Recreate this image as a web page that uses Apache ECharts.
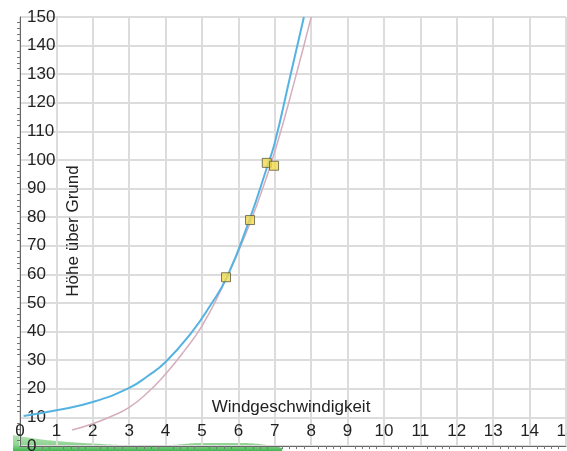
<!DOCTYPE html>
<html>
<head>
<meta charset="utf-8">
<script src="https://cdn.jsdelivr.net/npm/echarts@6/dist/echarts.min.js"></script>
<style>
  html, body { margin: 0; padding: 0; background: #fff; }
  #container { width: 567px; height: 451px; }
</style>
</head>
<body>
<div id="container"></div>
<script>
// Windprofil (blau), zweites Profil (rosa), Messpunkte und Gelände
var blueX = [0.1, 1, 2, 3, 3.5, 4, 4.7, 5.2, 5.7, 6.3, 6.8, 7.0, 7.4, 7.8];
var blueY = [10.5, 12.5, 15.4, 20.3, 24.4, 29.4, 39.5, 48.6, 59.5, 79, 98, 106, 128, 150];

var pinkX = [1.43, 2, 2.5, 3, 3.5, 4, 4.5, 5, 5.5, 6, 6.5, 7, 7.55, 8.0];
var pinkY = [5.6, 7.8, 10.3, 13.5, 18.6, 25.2, 33, 42, 54, 68, 84, 103, 128, 150];

var pointX = [5.66, 6.32, 6.78, 6.98];
var pointY = [59, 79, 99, 98];

var groundX = [-0.2, 0.5, 1, 2, 3, 4, 5, 6, 6.8, 7.2];
var groundY = [16, 12, 10, 7.5, 6, 6, 8, 8, 6, 3];

var xTicks = [0, 1, 2, 3, 4, 5, 6, 7, 8, 9, 10, 11, 12, 13, 14, 15];
var yTicks = [0, 10, 20, 30, 40, 50, 60, 70, 80, 90, 100, 110, 120, 130, 140, 150];

function pairs(xs, ys) {
	var out = [];
	for (var i = 0; i < xs.length; ++i) out.push([xs[i], ys[i]]);
	return out;
}

var myChart = echarts.init(document.getElementById('container'));
var labelFont = { color: '#222', fontSize: 17, fontFamily: 'Liberation Sans, Arial, sans-serif' };

option = {
	animation: false,
	grid: [
		{ left: 20, right: 1, top: 17, bottom: 5, outerBoundsMode: 'none', containLabel: false },
		{ left: 13, right: 1, top: 425, bottom: 0, outerBoundsMode: 'none', containLabel: false }
	],
	graphic: [
		{
			type: 'text', x: 291, y: 407, z: 100,
			style: { text: 'Windgeschwindigkeit', align: 'center', verticalAlign: 'middle',
				fill: '#222', font: '17px "Liberation Sans", Arial, sans-serif' }
		},
		{
			type: 'text', x: 73, y: 231, rotation: Math.PI / 2, z: 100,
			style: { text: 'Höhe über Grund', align: 'center', verticalAlign: 'middle',
				fill: '#222', font: '17px "Liberation Sans", Arial, sans-serif' }
		}
	],
	xAxis: [
		{
			type: 'value', gridIndex: 0,
			min: xTicks[0], max: xTicks[xTicks.length - 1], interval: 1,
			axisLine: { show: true, lineStyle: { color: '#666', width: 1 } },
			axisTick: { show: false },
			minorTick: { show: true, splitNumber: 5, length: 3, lineStyle: { color: '#777' } },
			axisLabel: Object.assign({ inside: true, margin: 6, showMaxLabel: true, showMinLabel: true }, labelFont),
			splitLine: { show: true, lineStyle: { color: '#dcdcdc', width: 2 } }
		},
		{
			type: 'value', gridIndex: 1, min: -0.2, max: 15, show: false
		}
	],
	yAxis: [
		{
			type: 'value', gridIndex: 0,
			min: yTicks[0], max: yTicks[yTicks.length - 1], interval: 10,
			axisLine: { show: true, lineStyle: { color: '#666', width: 1 } },
			axisTick: { show: false },
			minorTick: { show: true, splitNumber: 5, length: 3, lineStyle: { color: '#777' } },
			axisLabel: Object.assign({ inside: true, margin: 7, showMaxLabel: true }, labelFont),
			splitLine: { show: true, lineStyle: { color: '#dcdcdc', width: 2 } }
		},
		{
			type: 'value', gridIndex: 1, min: 0, max: 26, show: false
		}
	],
	series: [
		{
			name: 'Gelände', type: 'line', xAxisIndex: 1, yAxisIndex: 1,
			data: pairs(groundX, groundY), smooth: true, symbol: 'none',
			lineStyle: { width: 0 },
			areaStyle: {
				opacity: 1,
				color: new echarts.graphic.LinearGradient(0, 0, 0, 1, [
					{ offset: 0, color: '#b3e2b3' },
					{ offset: 0.6, color: '#8fd492' },
					{ offset: 1, color: '#45b552' }
				])
			},
			z: -1
		},
		{
			name: 'Profil 2', type: 'line',
			data: pairs(pinkX, pinkY), smooth: true, symbol: 'none',
			lineStyle: { color: '#d6adbd', width: 1.5 },
			z: 3
		},
		{
			name: 'Profil 1', type: 'line',
			data: pairs(blueX, blueY), smooth: true, symbol: 'none',
			lineStyle: { color: '#55b3e2', width: 2 },
			z: 4
		},
		{
			name: 'Messung', type: 'scatter',
			data: pairs(pointX, pointY), symbol: 'rect', symbolSize: 9,
			itemStyle: { color: '#f1d94e', borderColor: '#5a5a40', borderWidth: 1 },
			z: 6
		}
	]
};
myChart.setOption(option);
</script>
</body>
</html>
